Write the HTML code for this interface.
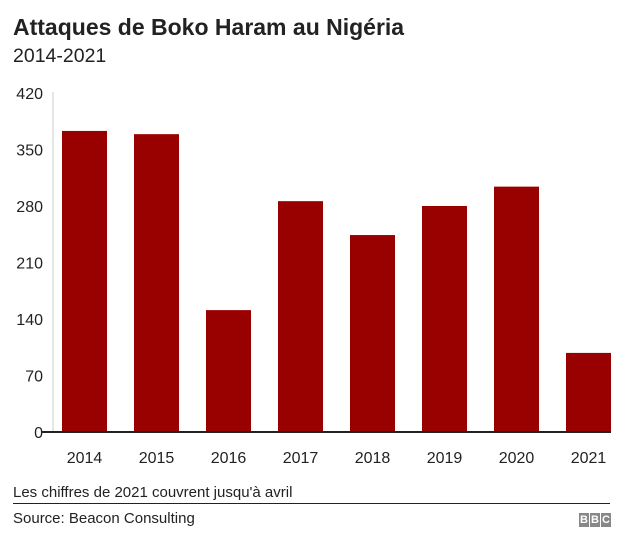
<!DOCTYPE html>
<html><head><meta charset="utf-8"><style>
body{margin:0;background:#fff;font-family:"Liberation Sans",Arial,sans-serif;}
#wrap{position:relative;width:640px;height:548px;overflow:hidden;}
.t{position:absolute;left:13px;white-space:nowrap;color:#222;}
.lg{width:10px;height:14px;background:#888;color:#fff;font-size:11px;font-weight:bold;text-align:center;line-height:14px}
</style></head><body>
<div id="wrap">
<div class="t" style="top:14px;font-size:23px;font-weight:bold;color:#222">Attaques de Boko Haram au Nigéria</div>
<div class="t" style="top:45px;font-size:19.5px;">2014-2021</div>
<svg id="plot" width="640" height="548" style="position:absolute;left:0;top:0"></svg>
<div class="t" style="top:484px;font-size:15px;">Les chiffres de 2021 couvrent jusqu'à avril</div>
<div style="position:absolute;left:13px;top:503px;width:597px;height:1px;background:#222"></div>
<div class="t" style="top:510px;font-size:15px;">Source: Beacon Consulting</div>
<div style="position:absolute;left:579px;top:513px;display:flex;gap:1px">
<span class="lg">B</span><span class="lg">B</span><span class="lg">C</span>
</div>
</div>
<script>
const categories=["2014","2015","2016","2017","2018","2019","2020","2021"];
const values=[373,369,151,286,244,280,304,98];
const yTicks=[0,70,140,210,280,350,420];
const NS="http://www.w3.org/2000/svg";
const svg=document.getElementById('plot');
const y0=432,yTop=93,yMax=420;
const y=v=>y0-(v/yMax)*(y0-yTop);
const step=72,bw=45,x0=62;
const x=i=>x0+i*step;
function mk(t,a){const e=document.createElementNS(NS,t);for(const k in a)e.setAttribute(k,a[k]);svg.appendChild(e);return e;}
const ax=mk('line',{x1:53,x2:53,y1:92,y2:y0,stroke:'#ccc','stroke-width':1});


yTicks.forEach(v=>{const t=mk('text',{x:43,y:y(v)+6,'text-anchor':'end','font-size':16,fill:'#222','font-family':'Liberation Sans, sans-serif'});t.textContent=v;

});
values.forEach((v,i)=>{const r=mk('rect',{x:x(i),y:y(v),width:bw,height:y0-y(v),fill:'#990000'});


const t=mk('text',{x:x(i)+bw/2,y:463,'text-anchor':'middle','font-size':16,fill:'#222','font-family':'Liberation Sans, sans-serif'});t.textContent=categories[i];

});
const bl=mk('line',{x1:42,x2:611,y1:y0,y2:y0,stroke:'#222','stroke-width':2});


</script>
</body></html>
